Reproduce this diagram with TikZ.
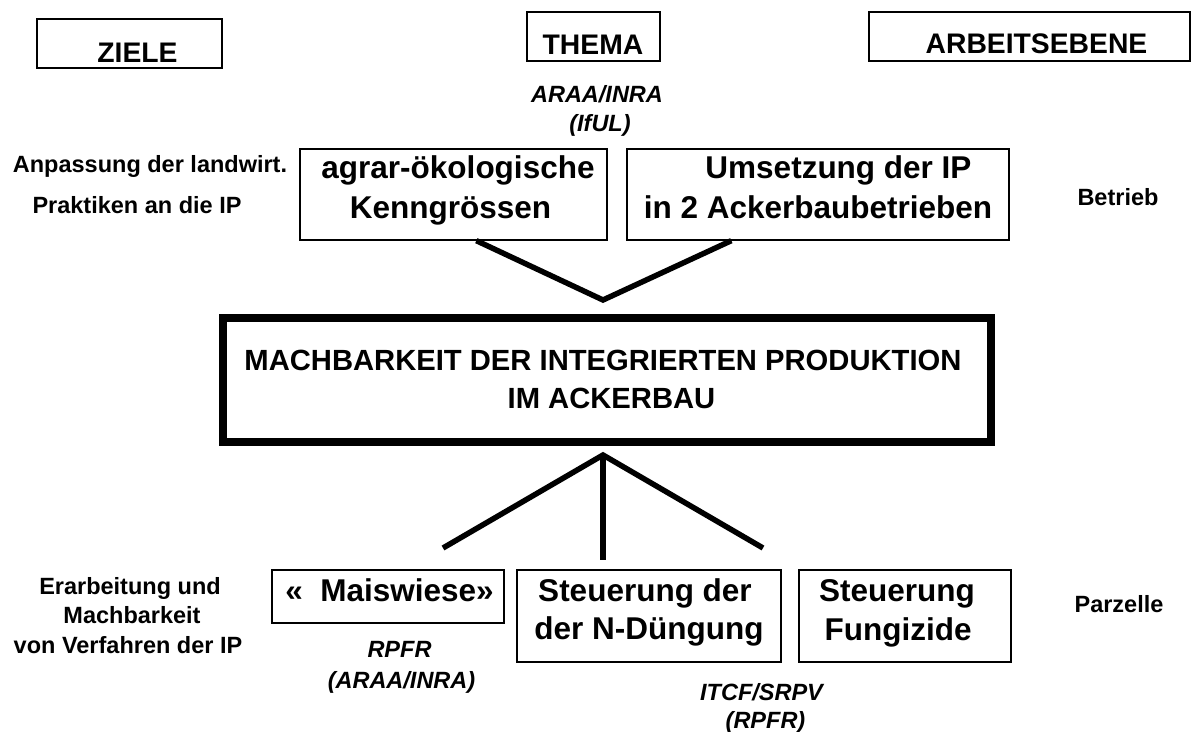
\documentclass[tikz,border=0pt]{standalone}
\usepackage{fontspec}
\setmainfont{Liberation Sans}
\usetikzlibrary{calc}
\newcommand\headf{\fontsize{28.3}{34}\selectfont\bfseries}
\newcommand\boxf{\fontsize{31.5}{38}\selectfont\bfseries}
\newcommand\mainf{\fontsize{29.2}{36}\selectfont\bfseries}
\newcommand\smallf{\fontsize{23.5}{28}\selectfont\bfseries}
\newcommand\itf{\fontsize{23.5}{28}\selectfont\bfseries\itshape}
\tikzset{
  frame/.style={draw=black, line width=1.3pt, inner sep=0pt},
  mainframe/.style={draw=black, line width=8pt, inner sep=0pt},
  txt/.style={anchor=base, inner sep=0pt},
  conn/.style={draw=black, line width=5.5pt}
}
\begin{document}
\begin{tikzpicture}[x=1pt,y=-1pt]
\useasboundingbox[fill=white] (0,0) rectangle (1191,731);

% header boxes
\node[frame, minimum width=185pt, minimum height=49pt] (ziele) at (129.5,43.5) {};
\node[frame, minimum width=133pt, minimum height=49pt] (thema) at (593.5,36.5) {};
\node[frame, minimum width=321pt, minimum height=49pt] (arbeit) at (1029.5,36.5) {};
\node[txt, font=\headf] (tziele) at (137.5,62) {ZIELE};
\node[txt, font=\headf] (tthema) at (593,54) {THEMA};
\node[txt, font=\headf] (tarbeit) at (1036.5,53) {ARBEITSEBENE};

% institutions top
\node[txt, font=\itf] (araa1) at (597,102) {ARAA/INRA};
\node[txt, font=\itf] (iful) at (600,131) {(IfUL)};

% left / right labels top
\node[txt, font=\smallf] (anp1) at (150,172) {Anpassung der landwirt.};
\node[txt, font=\smallf] (anp2) at (137,213) {Praktiken an die IP};
\node[txt, font=\smallf] (betrieb) at (1118,205) {Betrieb};

% upper boxes
\node[frame, minimum width=307pt, minimum height=91pt] (agrar) at (453.5,194.5) {};
\node[frame, minimum width=382pt, minimum height=91pt] (umsetz) at (818,194.5) {};
\node[txt, font=\boxf] (tagrar1) at (458,178) {agrar-ökologische};
\node[txt, font=\boxf] (tagrar2) at (450.5,218) {Kenngrössen};
\node[txt, font=\boxf] (tums1) at (838.5,178) {Umsetzung der IP};
\node[txt, font=\boxf] (tums2) at (818,218) {in 2 Ackerbaubetrieben};

% main box
\node[mainframe, minimum width=768pt, minimum height=123.5pt] (main) at (607,379.75) {};
\node[txt, font=\mainf] (tmain1) at (603,370) {MACHBARKEIT DER INTEGRIERTEN PRODUKTION};
\node[txt, font=\mainf] (tmain2) at (611.5,408) {IM ACKERBAU};

% upper connectors
\coordinate (tv) at (603,300);
\draw[conn] ($(agrar.south west)+(177,0)$) -- (tv) -- ($(umsetz.south west)+(105,0)$);

% lower connectors
\coordinate (bv) at (603,455);
\coordinate (bl) at (443,548);
\coordinate (bm) at (603,560);
\coordinate (br) at (763,548);
\draw[conn] (bl) -- (bv) -- (br);
\draw[conn] (bv) -- (bm);

% lower boxes
\node[frame, minimum width=232pt, minimum height=53pt] (mais) at (388,596.5) {};
\node[frame, minimum width=264pt, minimum height=92pt] (ndung) at (649,616) {};
\node[frame, minimum width=212pt, minimum height=92pt] (fung) at (905,616) {};
\node[txt, font=\boxf] (tmais) at (389.5,601) {«\ \ Maiswiese»};
\node[txt, font=\boxf] (tnd1) at (645,601) {Steuerung der};
\node[txt, font=\boxf] (tnd2) at (649,639) {der N-Düngung};
\node[txt, font=\boxf] (tfu1) at (897,601) {Steuerung};
\node[txt, font=\boxf] (tfu2) at (898,640) {Fungizide};

% institutions bottom
\node[txt, font=\itf] (rpfr) at (399.5,657) {RPFR};
\node[txt, font=\itf] (araa2) at (401.5,688) {(ARAA/INRA)};
\node[txt, font=\itf] (itcf) at (761.5,700) {ITCF/SRPV};
\node[txt, font=\itf] (rpfr2) at (765.5,728) {(RPFR)};

% left / right labels bottom
\node[txt, font=\smallf] (era1) at (130,594) {Erarbeitung und};
\node[txt, font=\smallf] (era2) at (132,623) {Machbarkeit};
\node[txt, font=\smallf] (era3) at (128,653) {von Verfahren der IP};
\node[txt, font=\smallf] (parz) at (1119,612) {Parzelle};
\end{tikzpicture}
\end{document}
